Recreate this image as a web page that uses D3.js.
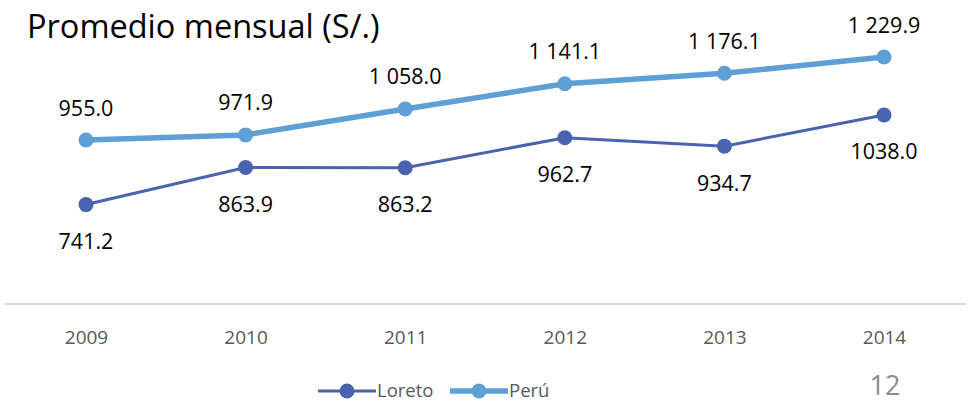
<!DOCTYPE html>
<html>
<head>
<meta charset="utf-8">
<script src="https://cdn.jsdelivr.net/npm/d3@7"></script>
<style>
  body { margin: 0; background: #fff; }
  text { font-family: "Open Sans", sans-serif; }
</style>
</head>
<body>
<div id="container"></div>
<script>
var w = 974;
var h = 404;

// data
var years = ["2009", "2010", "2011", "2012", "2013", "2014"];
var loreto = [741.2, 863.9, 863.2, 962.7, 934.7, 1038.0];
var peru = [955.0, 971.9, 1058.0, 1141.1, 1176.1, 1229.9];
var loretoLabels = ["741.2", "863.9", "863.2", "962.7", "934.7", "1038.0"];
var peruLabels = ["955.0", "971.9", "1 058.0", "1 141.1", "1 176.1", "1 229.9"];

var svg = d3.select("div#container")
    .append("svg")
    .attr("width", w)
    .attr("height", h);

var x = d3.scalePoint().domain(years).range([86, 884]);
var y = d3.scaleLinear().domain([412, 1229.9]).range([304, 57]);

svg.append("text")
    .attr("x", 27)
    .attr("y", 38)
    .attr("font-size", 32.5)
    .attr("fill", "#000")
    .text("Promedio mensual (S/.)");

// baseline
svg.append("line")
    .attr("x1", 5).attr("x2", 966)
    .attr("y1", y(412)).attr("y2", y(412))
    .attr("stroke", "#d9d9d9")
    .attr("stroke-width", 2);

// x labels
var xAxis = d3.axisBottom(x).tickSize(0).tickPadding(27);
var gx = svg.append("g").attr("transform", "translate(0," + y(412) + ")").call(xAxis);
gx.select(".domain").remove();
gx.selectAll("text")
    .attr("font-size", 19)
    .attr("fill", "#595959")
    .style("font-family", "'Open Sans', sans-serif");

var line = d3.line().x((d, i) => x(years[i])).y(d => y(d));

var series = [
  {name: "Loreto", values: loreto, labels: loretoLabels, color: "#4a63ae", width: 3, dy: 37},
  {name: "Perú", values: peru, labels: peruLabels, color: "#5e9fd5", width: 5.5, dy: -32}
];

series.forEach(function(s) {
  svg.append("path")
      .datum(s.values)
      .attr("d", line)
      .attr("fill", "none")
      .attr("stroke", s.color)
      .attr("stroke-width", s.width);

  svg.append("g").selectAll("circle")
      .data(s.values)
      .enter()
      .append("circle")
      .attr("cx", (d, i) => x(years[i]))
      .attr("cy", d => y(d))
      .attr("r", 7.5)
      .attr("fill", s.color);

  svg.append("g").selectAll("text")
      .data(s.values)
      .enter()
      .append("text")
      .attr("x", (d, i) => x(years[i]))
      .attr("y", d => y(d) + s.dy)
      .attr("dy", "0.35em")
      .attr("text-anchor", "middle")
      .attr("font-size", 21.5)
      .attr("fill", "#000")
      .text((d, i) => s.labels[i]);
});

// legend
var legendX = [318, 450];
series.forEach(function(s, i) {
  var g = svg.append("g").attr("transform", "translate(" + legendX[i] + ",391)");
  g.append("line")
      .attr("x1", 0).attr("x2", 58)
      .attr("stroke", s.color)
      .attr("stroke-width", s.width);
  g.append("circle").attr("cx", 29).attr("r", 7.5).attr("fill", s.color);
  g.append("text")
      .attr("x", 59)
      .attr("dy", "0.35em")
      .attr("font-size", 18.5)
      .attr("fill", "#595959")
      .text(s.name);
});

svg.append("text")
    .attr("x", 885)
    .attr("y", 395)
    .attr("text-anchor", "middle")
    .attr("font-size", 27)
    .attr("fill", "#8c8c8c")
    .text("12");
</script>
</body>
</html>
